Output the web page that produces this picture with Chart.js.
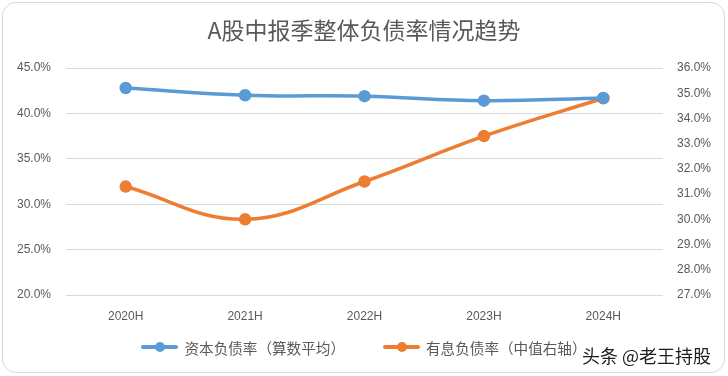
<!DOCTYPE html>
<html>
<head>
<meta charset="utf-8">
<script src="https://cdn.jsdelivr.net/npm/chart.js@4.4.0/dist/chart.umd.min.js"></script>
<style>
  html, body { margin: 0; padding: 0; background: #fff; }
  #wrap { position: relative; width: 728px; height: 376px; overflow: hidden; }
  #frame { position: absolute; left: 2px; top: 2px; right: 3px; bottom: 3px;
    border: 1.5px solid #d6d6d6; border-radius: 14px; pointer-events: none; }
  #myChart { position: absolute; left: 0; top: 0; }
  #legend { position: absolute; left: 0; top: 337px; width: 728px; height: 20px;
    display: flex; justify-content: center; align-items: center; gap: 38px;
    font-family: "Noto Sans CJK SC", sans-serif; font-size: 14.6px; color: #595959; }
  .item { display: flex; align-items: center; white-space: nowrap; }
  .mark { position: relative; width: 37px; height: 4px; margin-right: 6px; border-radius: 2px; }
  .mark i { position: absolute; left: 14px; top: -3px; width: 10px; height: 10px; border-radius: 50%; }
  #mark2 { position: absolute; left: 582px; top: 343px; line-height: 24px;
    font-family: "Noto Sans CJK SC", sans-serif; font-size: 18px; color: #1e1e1e; white-space: nowrap; }
</style>
</head>
<body>
<div id="wrap">
  <canvas id="myChart" width="728" height="376"></canvas>
  <div id="legend"></div>
  <div id="mark2">头条 @老王持股</div>
  <div id="frame"></div>
</div>
<script>
// data
const periods = ['2020H', '2021H', '2022H', '2023H', '2024H'];
const capitalDebtRatio = [42.8, 42.0, 41.9, 41.4, 41.7];   // 资本负债率（算数平均）, left axis
const interestDebtRatio = [31.3, 30.0, 31.5, 33.3, 34.8];  // 有息负债率（中值右轴）, right axis
const leftTicks = [20, 25, 30, 35, 40, 45];
const rightTicks = [27, 28, 29, 30, 31, 32, 33, 34, 35, 36];

const blue = '#5b9bd5';
const orange = '#ed7d31';
const grey = '#595959';
const tickFont = { family: 'Liberation Sans', size: 12 };
const pct = v => Number(v).toFixed(1) + '%';

const myChart = new Chart(document.getElementById('myChart'), {
  type: 'line',
  data: {
    labels: periods,
    datasets: [{
      label: '资本负债率（算数平均）',
      data: capitalDebtRatio,
      yAxisID: 'y',
      borderColor: blue,
      backgroundColor: blue,
      borderWidth: 3.5,
      pointRadius: 4.5,
      tension: 0.4
    }, {
      label: '有息负债率（中值右轴）',
      data: interestDebtRatio,
      yAxisID: 'y1',
      borderColor: orange,
      backgroundColor: orange,
      borderWidth: 3.5,
      pointRadius: 4.5,
      tension: 0.4
    }]
  },
  options: {
    responsive: false,
    animation: false,
    layout: { padding: 0 },
    plugins: {
      legend: { display: false },
      tooltip: { enabled: false },
      title: {
        display: true,
        text: 'A股中报季整体负债率情况趋势',
        color: grey,
        font: { family: 'Noto Sans CJK SC', size: 23, weight: 'normal' },
        padding: { top: 16, bottom: 24.4 }
      }
    },
    scales: {
      x: {
        offset: true,
        grid: { display: false, drawTicks: false },
        border: { display: false },
        ticks: { color: grey, font: tickFont, padding: 14, maxRotation: 0 },
        afterFit: s => { s.height = 81; }
      },
      y: {
        position: 'left',
        min: 20,
        max: 45,
        afterBuildTicks: s => { s.ticks = leftTicks.map(v => ({ value: v })); },
        grid: { color: '#d9d9d9', lineWidth: 1, drawTicks: false },
        border: { display: false },
        ticks: { color: grey, font: tickFont, padding: 15, callback: pct },
        afterFit: s => { s.width = 66; }
      },
      y1: {
        position: 'right',
        min: 27,
        max: 36,
        afterBuildTicks: s => { s.ticks = rightTicks.map(v => ({ value: v })); },
        grid: { display: false, drawTicks: false },
        border: { display: false },
        ticks: { color: grey, font: tickFont, padding: 14, callback: pct },
        afterFit: s => { s.width = 65; }
      }
    }
  }
});

// html legend, excel style (line with a dot)
function buildLegend(chart) {
  const box = document.getElementById('legend');
  chart.data.datasets.forEach(ds => {
    const item = document.createElement('div');
    item.className = 'item';
    const mark = document.createElement('span');
    mark.className = 'mark';
    mark.style.background = ds.borderColor;
    const dot = document.createElement('i');
    dot.style.background = ds.borderColor;
    mark.appendChild(dot);
    const txt = document.createElement('span');
    txt.textContent = ds.label;
    item.appendChild(mark);
    item.appendChild(txt);
    box.appendChild(item);
  });
}
buildLegend(myChart);
</script>
</body>
</html>
